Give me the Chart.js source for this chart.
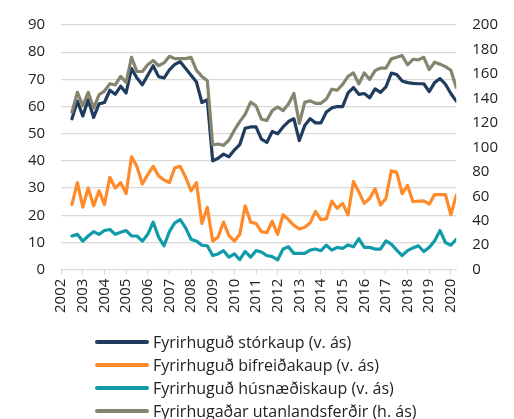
<!DOCTYPE html>
<html>
<head>
<meta charset="utf-8">
<script src="https://cdn.jsdelivr.net/npm/chart.js@4.4.1/dist/chart.umd.min.js"></script>
<style>
  html, body { margin: 0; padding: 0; background: #fff; }
  #wrap { position: relative; width: 514px; height: 419px; }
  #legend { position: absolute; left: 95px; top: 330px; font-family: 'Open Sans', sans-serif; font-size: 16px; color: #222; }
  .item { height: 23px; display: flex; align-items: center; white-space: nowrap; }
  .swatch { width: 54px; height: 4px; border-radius: 2px; margin-right: 4px; }
</style>
</head>
<body>
<div id="wrap">
  <canvas id="chart" width="514" height="419"></canvas>
  <div id="legend"></div>
</div>
<script>
// Ársfjórðungar (fyrsti punktur 2002Q3)
const quarters = [
  '2002Q3','2002Q4',
  '2003Q1','2003Q2','2003Q3','2003Q4',
  '2004Q1','2004Q2','2004Q3','2004Q4',
  '2005Q1','2005Q2','2005Q3','2005Q4',
  '2006Q1','2006Q2','2006Q3','2006Q4',
  '2007Q1','2007Q2','2007Q3','2007Q4',
  '2008Q1','2008Q2','2008Q3','2008Q4',
  '2009Q1','2009Q2','2009Q3','2009Q4',
  '2010Q1','2010Q2','2010Q3','2010Q4',
  '2011Q1','2011Q2','2011Q3','2011Q4',
  '2012Q1','2012Q2','2012Q3','2012Q4',
  '2013Q1','2013Q2','2013Q3','2013Q4',
  '2014Q1','2014Q2','2014Q3','2014Q4',
  '2015Q1','2015Q2','2015Q3','2015Q4',
  '2016Q1','2016Q2','2016Q3','2016Q4',
  '2017Q1','2017Q2','2017Q3','2017Q4',
  '2018Q1','2018Q2','2018Q3','2018Q4',
  '2019Q1','2019Q2','2019Q3','2019Q4',
  '2020Q1','2020Q2'
];

const years = [2002, 2003, 2004, 2005, 2006, 2007, 2008, 2009, 2010, 2011,
               2012, 2013, 2014, 2015, 2016, 2017, 2018, 2019, 2020];

// Vinstri ás
const storkaup = [
  55.5, 62, 56.5, 62.5, 56, 61, 61.5, 66, 64.5, 67.5,
  65, 74, 70.5, 68, 71.5, 75, 71, 70.5, 73.5, 75.5,
  76.5, 74, 71.5, 69, 61.5, 62.5, 40, 41, 42.5, 41.5,
  44, 46, 52, 52.5, 52.5, 48, 46.8, 50.8, 50, 52.5,
  54.5, 55.5, 47.5, 53, 55.5, 54, 54, 58, 59.5, 60,
  60, 65, 67, 64.5, 64.8, 63.2, 66.5, 65.2, 67.2, 72.3,
  71.8, 69.4, 68.8, 68.5, 68.4, 68.4, 65.5, 68.8, 70.3, 68.2,
  64.8, 62
];

const bifreidakaup = [
  24, 32, 23, 30, 23.5, 29, 24, 34, 30, 32,
  28, 41.5, 38, 31.5, 35, 38, 34.5, 33, 32, 37.5,
  38, 34, 29, 32, 17, 23, 10.5, 12, 17.5, 12.5,
  10.5, 13, 23.5, 17.5, 17, 14, 13.6, 17.8, 13, 20.2,
  18.4, 16.3, 15, 15.6, 17.2, 21.4, 18.4, 18.7, 25.2, 22.6,
  24.4, 20.2, 32.4, 28.6, 24.4, 26.2, 29.8, 23.8, 26.2, 36.4,
  35.8, 28, 31, 25, 25.2, 25.3, 24.1, 27.6, 27.6, 27.6,
  20.2, 27.4
];

const husnaediskaup = [
  12.4, 13, 10.5, 12.4, 14, 13, 14.4, 14.8, 13, 13.8,
  14.4, 12.4, 12.4, 10.5, 13, 17.5, 12, 8.8, 14, 17.2,
  18.4, 15.4, 11.2, 10.5, 9, 8.8, 5.2, 5.8, 7, 4.6,
  5.8, 3.7, 6.7, 4.6, 7, 6.5, 5.2, 4.8, 3.6, 7.6,
  8.4, 6, 6, 6, 7.2, 7.6, 7, 9, 7.2, 8.2,
  7.8, 9.1, 8.4, 11.4, 8.2, 8.2, 7.6, 7.6, 10.6, 9.4,
  7.2, 5.2, 7, 8, 8.8, 6.7, 8.2, 10.6, 14.4, 10,
  9, 11.2
];

// Hægri ás
const utanlandsferdir = [
  128.8, 145, 134, 145, 132, 143, 146, 152, 151, 158,
  153, 173.5, 162, 162, 167.5, 171, 166.7, 169, 174.4, 172.5,
  172.5, 172.5, 173.5, 163, 158, 154.5, 102, 102.7, 101.6, 106,
  114, 121, 127, 137, 134, 123, 122, 130, 133, 130,
  135.5, 144, 119.5, 136.8, 138, 136, 136, 139.5, 147.5, 146.7,
  151.5, 158, 160.8, 152, 160.8, 155.5, 162.7, 164.8, 164.8, 172.3,
  173.6, 175, 167.5, 172, 171.5, 173.6, 163.5, 169.6, 168, 166,
  163, 148.8
];

// 2002Q3 -> 2002.5
function quarterToX(q) {
  return Number(q.slice(0, 4)) + (Number(q.slice(5)) - 1) / 4;
}

function toPoints(values) {
  return values.map((v, i) => ({ x: quarterToX(quarters[i]), y: v }));
}

const tickFont = { family: "'Open Sans', sans-serif", size: 15 };
const textColor = '#222';
const gridColor = '#d9d9d9';

const chart = new Chart(document.getElementById('chart'), {
  type: 'line',
  data: {
    datasets: [
      { label: 'Fyrirhuguð stórkaup (v. ás)', data: toPoints(storkaup), borderColor: '#1f3b5e', yAxisID: 'y' },
      { label: 'Fyrirhuguð bifreiðakaup (v. ás)', data: toPoints(bifreidakaup), borderColor: '#ff8a2a', yAxisID: 'y' },
      { label: 'Fyrirhuguð húsnæðiskaup (v. ás)', data: toPoints(husnaediskaup), borderColor: '#109bab', yAxisID: 'y' },
      { label: 'Fyrirhugaðar utanlandsferðir (h. ás)', data: toPoints(utanlandsferdir), borderColor: '#85856f', yAxisID: 'y1' }
    ].reverse()
  },
  options: {
    responsive: false,
    animation: false,
    layout: { padding: { left: 12, right: 0, top: 8, bottom: 102 } },
    elements: {
      line: { borderWidth: 3.2, tension: 0, borderJoinStyle: 'round', borderCapStyle: 'round' },
      point: { radius: 0 }
    },
    plugins: { legend: { display: false }, tooltip: { enabled: false } },
    scales: {
      x: {
        type: 'linear',
        min: 2002,
        max: 2020.25,
        afterBuildTicks: scale => { scale.ticks = years.map(v => ({ value: v })); },
        grid: { drawOnChartArea: false, drawTicks: true, tickLength: 5, color: gridColor },
        border: { color: gridColor },
        ticks: { minRotation: 90, maxRotation: 90, padding: 4, color: textColor, font: tickFont, callback: v => String(v) }
      },
      y: {
        position: 'left',
        min: 0, max: 90,
        ticks: { stepSize: 10, padding: 16, color: textColor, font: tickFont },
        grid: { color: gridColor, lineWidth: 1.3, drawTicks: false },
        border: { display: false }
      },
      y1: {
        position: 'right',
        min: 0, max: 200,
        ticks: { stepSize: 20, padding: 16, color: textColor, font: tickFont },
        grid: { drawOnChartArea: false, drawTicks: false },
        border: { display: false }
      }
    }
  }
});

// Skýringar undir myndinni, ein lína á hverja röð
const legend = document.getElementById('legend');
chart.data.datasets.slice().reverse().forEach(ds => {
  const item = document.createElement('div');
  item.className = 'item';
  item.innerHTML = '<span class="swatch" style="background:' + ds.borderColor + '"></span><span>' + ds.label + '</span>';
  legend.appendChild(item);
});
</script>
</body>
</html>
